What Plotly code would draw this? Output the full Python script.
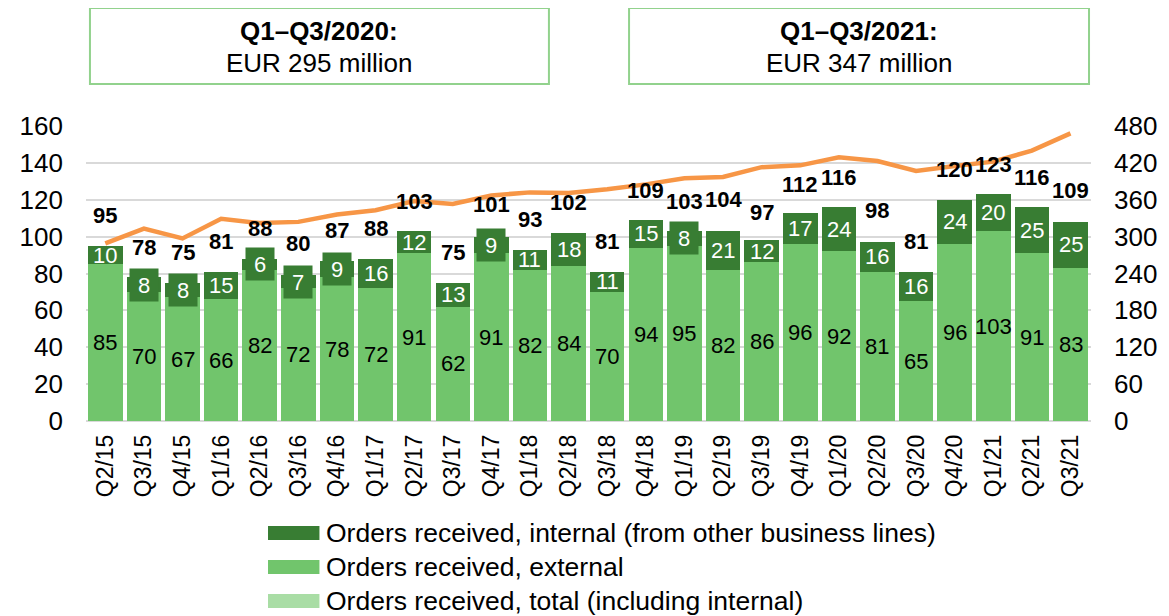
import plotly.graph_objects as go

# ---------------- data ----------------
quarters = ["Q2/15", "Q3/15", "Q4/15", "Q1/16", "Q2/16", "Q3/16", "Q4/16", "Q1/17",
            "Q2/17", "Q3/17", "Q4/17", "Q1/18", "Q2/18", "Q3/18", "Q4/18", "Q1/19",
            "Q2/19", "Q3/19", "Q4/19", "Q1/20", "Q2/20", "Q3/20", "Q4/20", "Q1/21",
            "Q2/21", "Q3/21"]
external = [85, 70, 67, 66, 82, 72, 78, 72, 91, 62, 91, 82, 84, 70, 94, 95,
            82, 86, 96, 92, 81, 65, 96, 103, 91, 83]
internal = [10, 8, 8, 15, 6, 7, 9, 16, 12, 13, 9, 11, 18, 11, 15, 8,
            21, 12, 17, 24, 16, 16, 24, 20, 25, 25]
totals = [95, 78, 75, 81, 88, 80, 87, 88, 103, 75, 101, 93, 102, 81, 109, 103,
          104, 97, 112, 116, 98, 81, 120, 123, 116, 109]
rolling_12m = [289, 313, 297, 329, 322, 324, 336, 343, 358, 353, 367, 372, 371,
               377, 385, 395, 397, 413, 416, 429, 423, 407, 415, 422, 440, 468]
y_ticks = [0, 20, 40, 60, 80, 100, 120, 140, 160]
y2_ticks = [0, 60, 120, 180, 240, 300, 360, 420, 480]
box_titles = ["Q1–Q3/2020:", "Q1–Q3/2021:"]
box_values = ["EUR 295 million", "EUR 347 million"]
legend_labels = ["Orders received, internal (from other business lines)",
                 "Orders received, external",
                 "Orders received, total (including internal)"]

# ---------------- style ----------------
FONT = "Liberation Sans, Arial, sans-serif"
DARK = "#387D33"
LIGHT = "#71C56C"
PALE = "#A9DDA5"
ORANGE = "#F79646"
GRID = "#D9D9D9"
BOX = "#92D28D"

OFF = 8  # page body margin of the browser
W, H = 1169 - OFF, 616 - OFF
L, R, T = 84 - OFF, 69, 126 - OFF
B = H - (421 - OFF)
PW, PH = W - L - R, H - T - B


def px(x):
    """reference pixel x -> paper fraction"""
    return (x - OFF - L) / PW


def py(y):
    """reference pixel y -> paper fraction"""
    return (H - B - (y - OFF)) / PH


fig = go.Figure()
fig.add_trace(go.Bar(x=quarters, y=external, name=legend_labels[1],
                     marker=dict(color=LIGHT, line=dict(width=0)),
                     showlegend=False))
fig.add_trace(go.Bar(x=quarters, y=internal, name=legend_labels[0],
                     marker=dict(color=DARK, line=dict(width=0)),
                     showlegend=False))
fig.add_trace(go.Scatter(x=quarters, y=rolling_12m, yaxis="y2", mode="lines",
                         line=dict(color=ORANGE, width=4.5), showlegend=False,
                         name="Rolling 12 months"))

ann = []
shapes = []
for q, e, i, t in zip(quarters, external, internal, totals):
    ann.append(dict(x=q, y=e / 2, text=str(e), showarrow=False,
                    font=dict(family=FONT, size=22, color="black"),
                    xanchor="center", yanchor="middle"))
    a = dict(x=q, y=e + i / 2, text=str(i), showarrow=False,
             font=dict(family=FONT, size=22, color="white"),
             xanchor="center", yanchor="middle")
    if i < 10:
        a.update(bgcolor=DARK, width=28, height=32, borderpad=0)
    ann.append(a)
    ann.append(dict(x=q, y=t, yshift=30, text="<b>%d</b>" % t, showarrow=False,
                    font=dict(family=FONT, size=22, color="black"),
                    xanchor="center", yanchor="middle"))

# summary boxes
box_x = [(88, 552), (633, 1098)]
for (x0, x1), ttl, val in zip(box_x, box_titles, box_values):
    shapes.append(dict(type="rect", xref="paper", yref="paper",
                       x0=px(x0), x1=px(x1), y0=py(84), y1=py(8),
                       line=dict(color=BOX, width=2), fillcolor="white"))
    cx = px((x0 + x1) / 2)
    ann.append(dict(xref="paper", yref="paper", x=cx, y=py(31), text="<b>%s</b>" % ttl,
                    showarrow=False, font=dict(family=FONT, size=26, color="black"),
                    xanchor="center", yanchor="middle"))
    ann.append(dict(xref="paper", yref="paper", x=cx, y=py(63), text=val,
                    showarrow=False, font=dict(family=FONT, size=26, color="black"),
                    xanchor="center", yanchor="middle"))

# manual legend
leg_rows = [533, 567, 601]
for yy, col, lab in zip(leg_rows, [DARK, LIGHT, PALE], legend_labels):
    shapes.append(dict(type="rect", xref="paper", yref="paper",
                       x0=px(268), x1=px(320), y0=py(yy + 7), y1=py(yy - 7),
                       line=dict(width=0), fillcolor=col))
    ann.append(dict(xref="paper", yref="paper", x=px(325), y=py(yy), text=lab,
                    showarrow=False, font=dict(family=FONT, size=26.5, color="black"),
                    xanchor="left", yanchor="middle"))

fig.update_layout(
    width=W, height=H,
    margin=dict(l=L, r=R, t=T, b=B, pad=0),
    barmode="stack", bargap=0.105,
    plot_bgcolor="white", paper_bgcolor="white",
    font=dict(family=FONT, color="black"),
    xaxis=dict(type="category", tickangle=-90, tickfont=dict(size=23),
               showgrid=False, showline=False, ticks="", ticklabelstandoff=8),
    yaxis=dict(range=[0, 160], tickvals=y_ticks, tickfont=dict(size=26),
               showgrid=True, gridcolor=GRID, gridwidth=1.5,
               zeroline=True, zerolinecolor=GRID, zerolinewidth=1.5,
               showline=False, ticks="", ticklabelstandoff=22),
    yaxis2=dict(range=[0, 480], tickvals=y2_ticks, tickfont=dict(size=26),
                overlaying="y", side="right", showgrid=False, zeroline=False,
                showline=False, ticks="", ticklabelstandoff=22),
    annotations=ann, shapes=shapes,
)

fig.write_html("out.html")
